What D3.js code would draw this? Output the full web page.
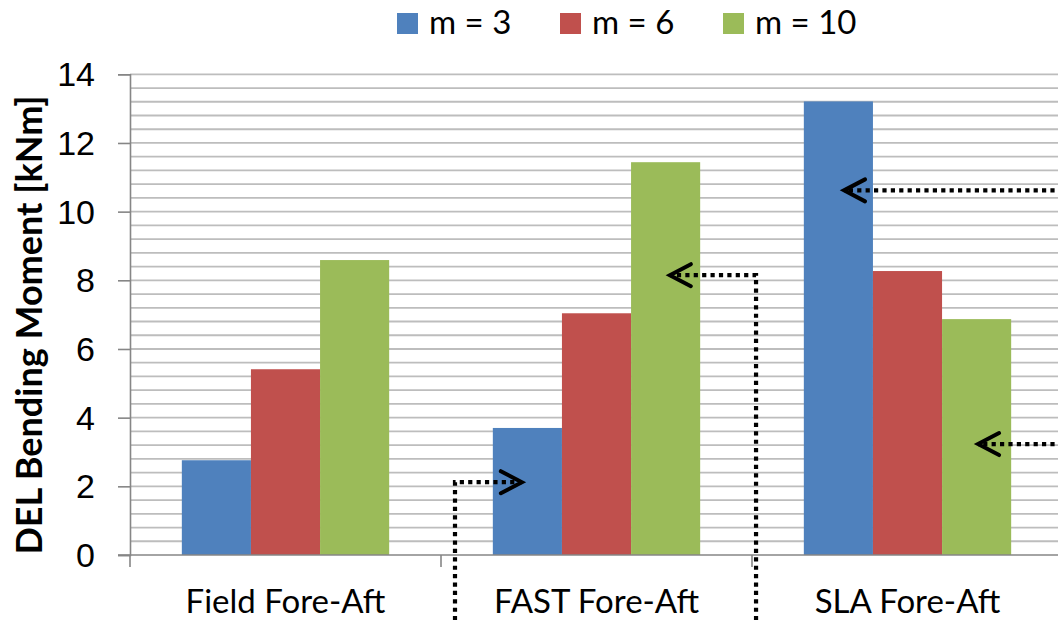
<!DOCTYPE html>
<html>
<head>
<meta charset="utf-8">
<script src="https://cdn.jsdelivr.net/npm/d3@7"></script>
<style>
  html, body { margin: 0; padding: 0; background: #fff; }
  svg { display: block; font-family: Lato, "Open Sans", sans-serif; }
</style>
</head>
<body>
<svg id="chart" width="1058" height="620"></svg>
<script>
// DEL bending moment per method and Wöhler exponent m
const categories = ["Field Fore-Aft", "FAST Fore-Aft", "SLA Fore-Aft"];
const seriesNames = ["m = 3", "m = 6", "m = 10"];
const seriesColors = ["#4F81BD", "#C0504D", "#9BBB59"];
const m3Values = [2.76, 3.70, 13.21];
const m6Values = [5.41, 7.04, 8.27];
const m10Values = [8.59, 11.44, 6.87];
const yTicks = [0, 2, 4, 6, 8, 10, 12, 14];

// Dotted callout arrows, in category units (x) and kNm (y); last point is the arrow tip
const callouts = [
  [[1.045, -1.9], [1.045, 2.12], [1.26, 2.12]],
  [[2.013, -1.9], [2.013, 8.15], [1.736, 8.15]],
  [[3.0, 10.62], [2.296, 10.62]],
  [[3.0, 3.23], [2.727, 3.23]]
];

const seriesValues = [m3Values, m6Values, m10Values];
const data = categories.map((c, i) => ({
  category: c,
  values: seriesValues.map((vals, s) => ({ series: s, value: vals[i] }))
}));

const svg = d3.select("#chart");
const left = 130, bandW = 311, y0 = 555, y14 = 74.3;
const right = left + bandW * categories.length;

const x = d3.scaleBand().domain(categories).range([left, right]).paddingInner(0).paddingOuter(0);
const xUnits = d3.scaleLinear().domain([0, categories.length]).range([left, right]);
// Clustered bars with a 150% gap width
const barW = x.bandwidth() / (seriesNames.length + 1.5);
const xs = d3.scaleBand().domain(d3.range(seriesNames.length))
  .range([x.bandwidth() / 2 - barW * 1.5, x.bandwidth() / 2 + barW * 1.5]);
const y = d3.scaleLinear().domain([0, 14]).range([y0, y14]);

// Gridlines every 0.4
const gridVals = d3.range(0, 14.0001, 0.4).map(v => +v.toFixed(1));
svg.append("g").selectAll("line").data(gridVals.filter(v => v > 0)).join("line")
  .attr("x1", left).attr("x2", 1058)
  .attr("y1", d => y(d)).attr("y2", d => y(d))
  .attr("stroke", "#bdbdbd").attr("stroke-width", 1.8);

// Bars
const groups = svg.append("g").selectAll("g").data(data).join("g")
  .attr("transform", d => `translate(${x(d.category)},0)`);
groups.selectAll("rect").data(d => d.values).join("rect")
  .attr("x", d => xs(d.series)).attr("width", xs.bandwidth())
  .attr("y", d => y(d.value)).attr("height", d => y(0) - y(d.value))
  .attr("fill", d => seriesColors[d.series]);

// Y axis
const yAxis = d3.axisLeft(y).tickValues(yTicks).tickSize(12).tickPadding(23).tickFormat(d3.format("d"));
const gy = svg.append("g").attr("transform", `translate(${left},0)`).call(yAxis);
gy.select(".domain").attr("stroke", "#868686").attr("stroke-width", 1.6);
gy.selectAll(".tick line").attr("stroke", "#868686").attr("stroke-width", 1.6);
gy.selectAll(".tick text").attr("font-size", 34).attr("fill", "#000").attr("dy", "0.34em");

// X axis: baseline with tick marks between categories
svg.append("line").attr("x1", left - 12).attr("x2", 1058).attr("y1", y0).attr("y2", y0)
  .attr("stroke", "#868686").attr("stroke-width", 1.6);
svg.append("g").selectAll("line").data(d3.range(categories.length + 1)).join("line")
  .attr("x1", d => xUnits(d)).attr("x2", d => xUnits(d))
  .attr("y1", y0).attr("y2", y0 + 12)
  .attr("stroke", "#868686").attr("stroke-width", 1.6);
svg.append("g").selectAll("text").data(categories).join("text")
  .attr("x", d => x(d) + x.bandwidth() / 2).attr("y", 613)
  .attr("text-anchor", "middle").attr("font-size", 33).attr("fill", "#000")
  .text(d => d);

// Y axis title
svg.append("text")
  .attr("transform", "translate(42,325) rotate(-90)")
  .attr("text-anchor", "middle").attr("font-size", 36).attr("font-weight", "bold")
  .attr("fill", "#000").text("DEL Bending Moment [kNm]");

// Legend
const legendX = [397, 560, 723];
const lg = svg.append("g").selectAll("g").data(seriesNames).join("g")
  .attr("transform", (d, i) => `translate(${legendX[i]},0)`);
lg.append("rect").attr("x", 0).attr("y", 13).attr("width", 21).attr("height", 21)
  .attr("fill", (d, i) => seriesColors[i]);
lg.append("text").attr("x", 32).attr("y", 34).attr("font-size", 33).attr("fill", "#000")
  .text(d => d);

// Callout arrows
const line = d3.line().x(p => xUnits(p[0])).y(p => y(p[1]));
const cg = svg.append("g");
callouts.forEach(pts => {
  cg.append("path").attr("d", line(pts)).attr("fill", "none")
    .attr("stroke", "#000").attr("stroke-width", 4.2)
    .attr("stroke-dasharray", "4.2,4.2");
  const tip = pts[pts.length - 1], prev = pts[pts.length - 2];
  const tx = xUnits(tip[0]), ty = y(tip[1]);
  const dir = Math.sign(xUnits(tip[0]) - xUnits(prev[0]));
  cg.append("path")
    .attr("d", `M${tx - dir * 21},${ty - 11} L${tx},${ty} L${tx - dir * 21},${ty + 11}`)
    .attr("fill", "none").attr("stroke", "#000").attr("stroke-width", 4)
    .attr("stroke-linecap", "round").attr("stroke-linejoin", "miter");
});
</script>
</body>
</html>
